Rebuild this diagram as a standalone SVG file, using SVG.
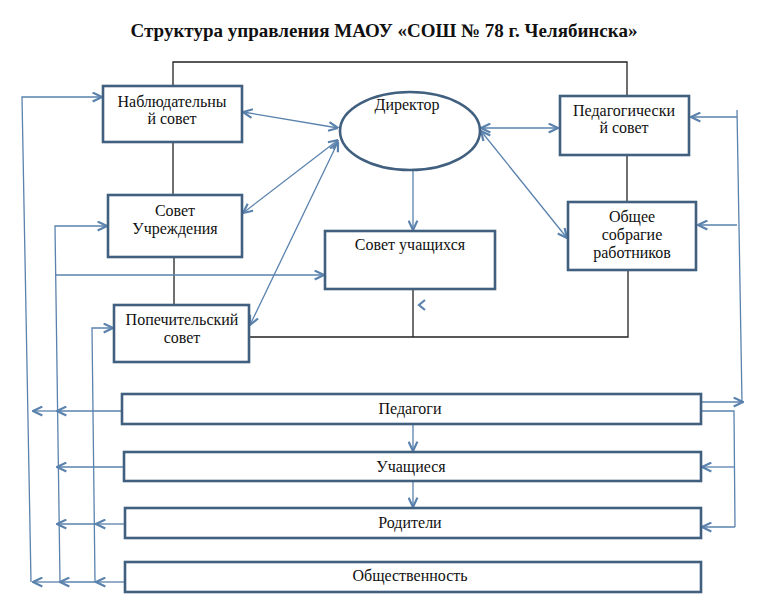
<svg xmlns="http://www.w3.org/2000/svg" width="757" height="600" viewBox="0 0 757 600">
<style>
.box{fill:#fff;stroke:#41607f;stroke-width:2.6}
.t{font-family:"Liberation Serif","Times New Roman",serif;font-size:16px;fill:#111;text-anchor:middle}
.title{font-family:"Liberation Serif","Times New Roman",serif;font-size:19px;font-weight:bold;fill:#111;text-anchor:middle}
.k{fill:none;stroke:#222;stroke-width:1.3}
.c{fill:none;stroke:#5a82ad;stroke-width:1.3}
.ah{fill:none;stroke:#5a82ad;stroke-width:2.2}
</style>
<defs>
<marker id="a" viewBox="0 0 10 10" refX="9.5" refY="5" markerWidth="11" markerHeight="11" markerUnits="userSpaceOnUse" orient="auto-start-reverse">
<path d="M1,1 L9.5,5 L1,9" fill="none" stroke="#5a82ad" stroke-width="2"/>
</marker>
</defs>
<rect width="757" height="600" fill="#fff"/>
<text class="title" x="384" y="37">Структура управления МАОУ «СОШ № 78 г. Челябинска»</text>

<g id="connectors">
<polyline class="k" points="173,86 173,62 627,62 627,96"/>
<line class="k" x1="173" y1="142" x2="173" y2="195"/>
<line class="k" x1="174" y1="257" x2="174" y2="305"/>
<line class="k" x1="627" y1="155" x2="627" y2="202"/>
<polyline class="k" points="249,337 628,337 628,270"/>
<line class="k" x1="413" y1="289" x2="413" y2="337"/>
<polyline class="ah" points="425,300 419,305 425,310"/>
<line class="c" x1="243" y1="112" x2="338" y2="128" marker-start="url(#a)" marker-end="url(#a)"/>
<line class="c" x1="243" y1="213" x2="338" y2="140" marker-start="url(#a)" marker-end="url(#a)"/>
<line class="c" x1="250" y1="325" x2="338" y2="142" marker-start="url(#a)" marker-end="url(#a)"/>
<line class="c" x1="481" y1="128" x2="558" y2="128" marker-start="url(#a)" marker-end="url(#a)"/>
<line class="c" x1="481" y1="131" x2="567" y2="238" marker-start="url(#a)" marker-end="url(#a)"/>
<line class="c" x1="413" y1="170" x2="413" y2="230" marker-end="url(#a)"/>
<polyline class="c" points="102,97 22,97 31,582" marker-start="url(#a)"/>
<polyline class="c" points="107,226 55,226 60,582" marker-start="url(#a)"/>
<polyline class="c" points="113,328 92,328 95,582" marker-start="url(#a)"/>
<line class="c" x1="55" y1="275" x2="324" y2="275" marker-end="url(#a)"/>
<line class="c" x1="122" y1="411" x2="57" y2="411" marker-end="url(#a)"/>
<line class="c" x1="57" y1="411" x2="33" y2="411" marker-end="url(#a)"/>
<line class="c" x1="124" y1="467" x2="57" y2="467" marker-end="url(#a)"/>
<line class="c" x1="125" y1="524" x2="96" y2="524" marker-end="url(#a)"/>
<line class="c" x1="96" y1="524" x2="57" y2="524" marker-end="url(#a)"/>
<line class="c" x1="125" y1="582" x2="96" y2="582" marker-end="url(#a)"/>
<line class="c" x1="96" y1="582" x2="60" y2="582" marker-end="url(#a)"/>
<line class="c" x1="60" y1="582" x2="33" y2="582" marker-end="url(#a)"/>
<line class="c" x1="413" y1="424" x2="413" y2="451" marker-end="url(#a)"/>
<line class="c" x1="413" y1="481" x2="413" y2="507" marker-end="url(#a)"/>
<line class="c" x1="701" y1="402" x2="743" y2="402" marker-end="url(#a)"/>
<line class="c" x1="742" y1="402" x2="737" y2="110"/>
<line class="c" x1="737" y1="117" x2="691" y2="117" marker-end="url(#a)"/>
<line class="c" x1="737" y1="225" x2="698" y2="225" marker-end="url(#a)"/>
<polyline class="c" points="701,411 734,411 735,527"/>
<line class="c" x1="734" y1="467" x2="702" y2="467" marker-end="url(#a)"/>
<line class="c" x1="735" y1="527" x2="702" y2="527" marker-end="url(#a)"/>
</g>

<g id="nablyud">
<rect class="box" x="103" y="86" width="139" height="56"/>
<text class="t" x="172" y="107">Наблюдательны</text>
<text class="t" x="172" y="124">й совет</text>
</g>
<g id="sovet-uchr">
<rect class="box" x="108" y="195" width="134" height="62"/>
<text class="t" x="175" y="216">Совет</text>
<text class="t" x="175" y="234">Учреждения</text>
</g>
<g id="popech">
<rect class="box" x="114" y="305" width="135" height="57"/>
<text class="t" x="182" y="325">Попечительский</text>
<text class="t" x="182" y="343">совет</text>
</g>
<g id="director">
<ellipse cx="410" cy="131" rx="70" ry="39" fill="#fff" stroke="#41607f" stroke-width="2.6"/>
<text class="t" x="407" y="110">Директор</text>
</g>
<g id="pedsovet">
<rect class="box" x="560" y="96" width="129" height="59"/>
<text class="t" x="624" y="116">Педагогически</text>
<text class="t" x="624" y="133">й совет</text>
</g>
<g id="obshee">
<rect class="box" x="568" y="202" width="128" height="68"/>
<text class="t" x="632" y="222">Общее</text>
<text class="t" x="632" y="240">собрагие</text>
<text class="t" x="632" y="258">работников</text>
</g>
<g id="sovet-uch">
<rect class="box" x="325" y="231" width="170" height="58"/>
<text class="t" x="410" y="250">Совет учащихся</text>
</g>
<g id="pedagogi">
<rect class="box" x="122" y="394" width="579" height="30"/>
<text class="t" x="410" y="414">Педагоги</text>
</g>
<g id="uchashiesya">
<rect class="box" x="124" y="452" width="577" height="29"/>
<text class="t" x="411" y="472">Учащиеся</text>
</g>
<g id="roditeli">
<rect class="box" x="125" y="508" width="576" height="30"/>
<text class="t" x="410" y="528">Родители</text>
</g>
<g id="obshestv">
<rect class="box" x="125" y="562" width="576" height="30"/>
<text class="t" x="410" y="581">Общественность</text>
</g>
</svg>
